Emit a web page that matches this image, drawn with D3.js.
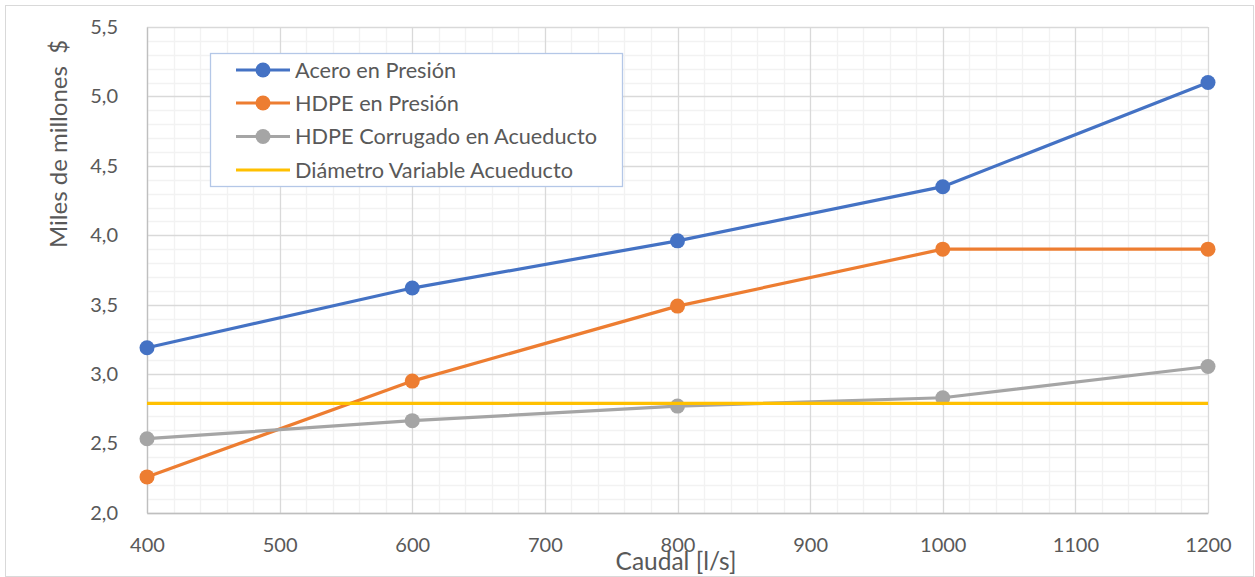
<!DOCTYPE html>
<html>
<head>
<meta charset="utf-8">
<script src="https://cdn.jsdelivr.net/npm/d3@7"></script>
<style>
  html, body { margin: 0; padding: 0; background: #fff; }
  svg { display: block; font-family: Lato, "Open Sans", sans-serif; }
</style>
</head>
<body>
<svg id="chart" width="1255" height="577"></svg>
<script>
// ---- data ----
const caudal = [400, 600, 800, 1000, 1200];
const aceroPresion = [3.19, 3.62, 3.96, 4.35, 5.10];
const hdpePresion = [2.26, 2.95, 3.49, 3.90, 3.90];
const hdpeCorrugado = [2.535, 2.665, 2.77, 2.83, 3.055];
const diametroVariable = [2.79, 2.79, 2.79, 2.79, 2.79];
const seriesNames = ["Acero en Presión", "HDPE en Presión", "HDPE Corrugado en Acueducto", "Diámetro Variable Acueducto"];
const xTicks = [400, 500, 600, 700, 800, 900, 1000, 1100, 1200];
const yTicks = [2.0, 2.5, 3.0, 3.5, 4.0, 4.5, 5.0, 5.5];
const xTitle = "Caudal [l/s]";
const yTitle = "Miles de millones  $";

// ---- styles ----
const colors = ["#4472c4", "#ed7d31", "#a5a5a5", "#ffc000"];
const markers = [true, true, true, false];
const textColor = "#595959";

const svg = d3.select("#chart");
const W = 1255, H = 577;
const plot = { left: 147, right: 1208, top: 27, bottom: 513 };

// outer border
svg.append("rect").attr("x", 5.5).attr("y", 5.5).attr("width", W - 7).attr("height", H - 6)
  .attr("fill", "#fff").attr("stroke", "#d9d9d9").attr("stroke-width", 1);

const x = d3.scaleLinear().domain([400, 1200]).range([plot.left, plot.right]);
const y = d3.scaleLinear().domain([2.0, 5.5]).range([plot.bottom, plot.top]);

// minor grid
const g = svg.append("g");
const minorX = d3.range(400, 1200.01, 20).filter(v => v % 100 !== 0);
const minorY = d3.range(20, 55.01, 1).map(v => v / 10).filter(v => Math.round(v * 10) % 5 !== 0);
g.selectAll(".mx").data(minorX).enter().append("line")
  .attr("x1", d => Math.round(x(d)) + 0.5).attr("x2", d => Math.round(x(d)) + 0.5)
  .attr("y1", plot.top).attr("y2", plot.bottom)
  .attr("stroke", "#f2f2f2").attr("stroke-width", 1.3);
g.selectAll(".my").data(minorY).enter().append("line")
  .attr("y1", d => Math.round(y(d)) + 0.5).attr("y2", d => Math.round(y(d)) + 0.5)
  .attr("x1", plot.left).attr("x2", plot.right)
  .attr("stroke", "#f2f2f2").attr("stroke-width", 1.3);
// major grid
g.selectAll(".Mx").data(xTicks).enter().append("line")
  .attr("x1", d => Math.round(x(d)) + 0.5).attr("x2", d => Math.round(x(d)) + 0.5)
  .attr("y1", plot.top).attr("y2", plot.bottom)
  .attr("stroke", "#d9d9d9").attr("stroke-width", 1.3);
g.selectAll(".My").data(yTicks).enter().append("line")
  .attr("y1", d => Math.round(y(d)) + 0.5).attr("y2", d => Math.round(y(d)) + 0.5)
  .attr("x1", plot.left).attr("x2", plot.right)
  .attr("stroke", "#d9d9d9").attr("stroke-width", 1.3);

// axes
const fmt = d => d3.format(".1f")(d).replace(".", ",");
const yAxis = svg.append("g").attr("transform", `translate(${plot.left},0)`)
  .call(d3.axisLeft(y).tickValues(yTicks).tickFormat(fmt).tickSize(0).tickPadding(29));
const xAxis = svg.append("g").attr("transform", `translate(0,${plot.bottom})`)
  .call(d3.axisBottom(x).tickValues(xTicks).tickFormat(d3.format("d")).tickSize(0).tickPadding(25));
[xAxis, yAxis].forEach(a => {
  a.select(".domain").attr("stroke", "#bfbfbf").attr("stroke-width", 1.3);
  a.selectAll("text").attr("fill", textColor).style("font-size", "20px").style("font-family", "Lato, sans-serif");
});

// series
const allSeries = [aceroPresion, hdpePresion, hdpeCorrugado, diametroVariable];
const line = d3.line().x(d => x(d[0])).y(d => y(d[1]));
allSeries.forEach((vals, i) => {
  const pts = caudal.map((c, j) => [c, vals[j]]);
  svg.append("path").datum(pts).attr("d", line)
    .attr("fill", "none").attr("stroke", colors[i]).attr("stroke-width", 3.2)
    .attr("stroke-linejoin", "round");
  if (markers[i]) {
    svg.selectAll(null).data(pts).enter().append("circle")
      .attr("cx", d => x(d[0])).attr("cy", d => y(d[1])).attr("r", 7.5)
      .attr("fill", colors[i]);
  }
});

// legend
const lg = svg.append("g");
lg.append("rect").attr("x", 210.5).attr("y", 53.5).attr("width", 412).attr("height", 133)
  .attr("fill", "#fff").attr("stroke", "#b4c7e7").attr("stroke-width", 1.3);
const rowY = [70, 103, 136.5, 170];
seriesNames.forEach((name, i) => {
  lg.append("line").attr("x1", 236).attr("x2", 290).attr("y1", rowY[i]).attr("y2", rowY[i])
    .attr("stroke", colors[i]).attr("stroke-width", 3.2);
  if (markers[i]) lg.append("circle").attr("cx", 263).attr("cy", rowY[i]).attr("r", 7.5).attr("fill", colors[i]);
  lg.append("text").attr("x", 295).attr("y", rowY[i]).attr("dy", "0.35em")
    .attr("fill", textColor).style("font-size", "21.7px").text(name);
});

// axis titles
svg.append("text").attr("x", 676).attr("y", 561).attr("dy", "0.35em").attr("text-anchor", "middle")
  .attr("fill", textColor).style("font-size", "24.5px").text(xTitle);
svg.append("text").attr("transform", "translate(59,144) rotate(-90)").attr("dy", "0.35em")
  .attr("text-anchor", "middle").attr("fill", textColor).style("font-size", "24px")
  .style("white-space", "pre").text(yTitle);
</script>
</body>
</html>
